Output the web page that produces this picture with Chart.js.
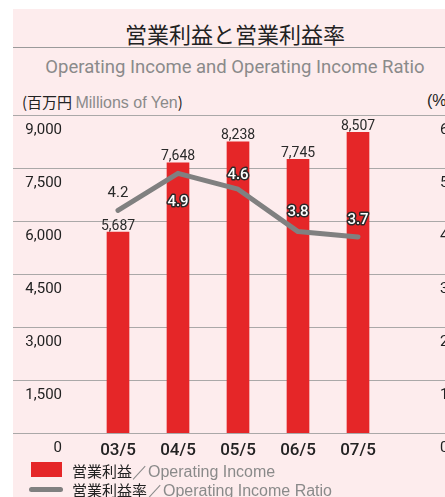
<!DOCTYPE html>
<html>
<head>
<meta charset="utf-8">
<script src="https://cdn.jsdelivr.net/npm/chart.js@4.4.1/dist/chart.umd.min.js"></script>
<style>
    body { margin: 0; width: 445px; height: 497px; overflow: hidden; background: #fff; position: relative; font-family: Roboto, sans-serif; }
    #panel { position: absolute; left: 13px; top: 9px; right: 0; bottom: 0; background: #fdeced; }
    #rule { position: absolute; left: 13px; right: 0; top: 47px; border-top: 1px solid #9a9a9a; }
    .txt { position: absolute; white-space: nowrap; line-height: 1; }
    #title { left: 35px; width: 400px; top: 17px; text-align: center; font: 22px "Noto Sans CJK JP", sans-serif; color: #222; }
    #subtitle { left: 35px; width: 400px; top: 58px; text-align: center; font-size: 18.5px; color: #8a8a8a; }
    #unitLeft { left: 22px; top: 91px; font: 15px "Noto Sans CJK JP", sans-serif; color: #222; }
    #unitLeft span { color: #8a8a8a; font: 16px "Liberation Sans", Arial, sans-serif; }
    #unitRight { left: 427px; top: 92px; font: 16px "Liberation Sans", sans-serif; color: #222; }
    canvas { position: absolute; left: 0; top: 0; }
    .legend { position: absolute; left: 72px; font: 15px "Noto Sans CJK JP", sans-serif; color: #222; white-space: nowrap; line-height: 1; }
    .legend span { color: #8a8a8a; font: 16px "Liberation Sans", Arial, sans-serif; }
    .swatch { position: absolute; }
</style>
</head>
<body>
<div id="panel"></div>
<div id="rule"></div>
<div class="txt" id="title">営業利益と営業利益率</div>
<div class="txt" id="subtitle">Operating Income and Operating Income Ratio</div>
<div class="txt" id="unitLeft">(百万円 <span>Millions of Yen</span>)</div>
<div class="txt" id="unitRight">(%)</div>
<canvas id="incomeChart" width="445" height="497"></canvas>
<div class="swatch" style="left:31px; top:462px; width:31px; height:15px; background:#e52628;"></div>
<div class="legend" style="top:462px;">営業利益<span>／Operating Income</span></div>
<div class="swatch" style="left:29px; top:487px; width:34px; height:5px; border-radius:3px; background:#808080;"></div>
<div class="legend" style="top:481px;">営業利益率<span>／Operating Income Ratio</span></div>

<script>
const years = ['03/5', '04/5', '05/5', '06/5', '07/5'];
const operatingIncome = [5687, 7648, 8238, 7745, 8507];
const incomeRatio = [4.2, 4.9, 4.6, 3.8, 3.7];
const incomeTicks = [0, 1500, 3000, 4500, 6000, 7500, 9000];
const ratioTicks = [0, 1, 2, 3, 4, 5, 6];

// where each ratio label sits relative to its point (px)
const ratioLabelShift = [-17, 29, -14, -19, -17];

const tickFont = { family: "Roboto, sans-serif", size: 15 };

// horizontal rules run across the whole panel, not just the plot area
const fullWidthGrid = {
    id: 'fullWidthGrid',
    beforeDatasetsDraw(chart) {
        let ctx = chart.ctx;
        let y = chart.scales.y;
        ctx.save();
        ctx.strokeStyle = '#aaa8a8';
        ctx.lineWidth = 1.2;
        incomeTicks.forEach(v => {
            let py = Math.round(y.getPixelForValue(v)) + 0.5;
            ctx.beginPath();
            ctx.moveTo(13, py);
            ctx.lineTo(chart.width, py);
            ctx.stroke();
        });
        ctx.restore();
    }
};

const valueLabels = {
    id: 'valueLabels',
    afterDatasetsDraw(chart) {
        let ctx = chart.ctx;
        let bars = chart.getDatasetMeta(0).data;
        let points = chart.getDatasetMeta(1).data;
        ctx.save();
        ctx.textAlign = 'center';

        ctx.font = "14px Roboto, sans-serif";
        ctx.fillStyle = '#2a2a2a';
        ctx.textBaseline = 'bottom';
        bars.forEach((bar, i) => {
            ctx.fillText(operatingIncome[i].toLocaleString('en-US'), bar.x, bar.y + 1);
        });

        ctx.textBaseline = 'middle';
        ctx.lineJoin = 'round';
        points.forEach((pt, i) => {
            let ly = pt.y + ratioLabelShift[i];
            let text = incomeRatio[i].toFixed(1);
            if (ly > bars[i].y) {
                // label sits on the red bar: white with a dark outline
                ctx.font = "500 15px Roboto, sans-serif";
                ctx.lineWidth = 3;
                ctx.strokeStyle = '#2a2a2a';
                ctx.strokeText(text, pt.x, ly);
                ctx.fillStyle = '#ffffff';
                ctx.fillText(text, pt.x, ly);
            } else {
                ctx.font = "15px Roboto, sans-serif";
                ctx.fillStyle = '#2a2a2a';
                ctx.fillText(text, pt.x, ly);
            }
        });
        ctx.restore();
    }
};

new Chart(document.getElementById('incomeChart'), {
    data: {
        labels: years,
        datasets: [
            {
                type: 'bar',
                label: '営業利益／Operating Income',
                data: operatingIncome,
                backgroundColor: '#e52628',
                barThickness: 22,
                yAxisID: 'y',
                order: 2,
            },
            {
                type: 'line',
                label: '営業利益率／Operating Income Ratio',
                data: incomeRatio,
                borderColor: '#808080',
                borderWidth: 5,
                borderCapStyle: 'round',
                borderJoinStyle: 'round',
                pointRadius: 0,
                tension: 0,
                yAxisID: 'y1',
                order: 1,
            }
        ],
    },
    options: {
        responsive: false,
        animation: false,
        layout: { padding: { top: 115, left: 0, right: 0, bottom: 0 } },
        plugins: {
            legend: { display: false },
            tooltip: { enabled: false },
        },
        scales: {
            x: {
                grid: { display: false, drawTicks: false },
                border: { display: false },
                ticks: { color: '#222', font: { ...tickFont, size: 17, weight: '500' }, padding: 8 },
                afterFit: (s) => { s.height = 64; },
            },
            y: {
                position: 'left',
                min: 0,
                max: 9000,
                grid: { display: false, drawTicks: false },
                border: { display: false },
                afterBuildTicks: (s) => { s.ticks = incomeTicks.map(v => ({ value: v })); },
                ticks: {
                    color: '#222',
                    font: tickFont,
                    padding: 26,
                    labelOffset: 15,
                    callback: (v) => v.toLocaleString('en-US'),
                },
                afterFit: (s) => { s.width = 88; },
            },
            y1: {
                position: 'right',
                min: 0,
                max: 6,
                grid: { display: false, drawTicks: false },
                border: { display: false },
                afterBuildTicks: (s) => { s.ticks = ratioTicks.map(v => ({ value: v })); },
                ticks: { color: '#222', font: tickFont, padding: 52, labelOffset: 15 },
                afterFit: (s) => { s.width = 57; },
            },
        },
    },
    plugins: [fullWidthGrid, valueLabels],
});
</script>
</body>
</html>
